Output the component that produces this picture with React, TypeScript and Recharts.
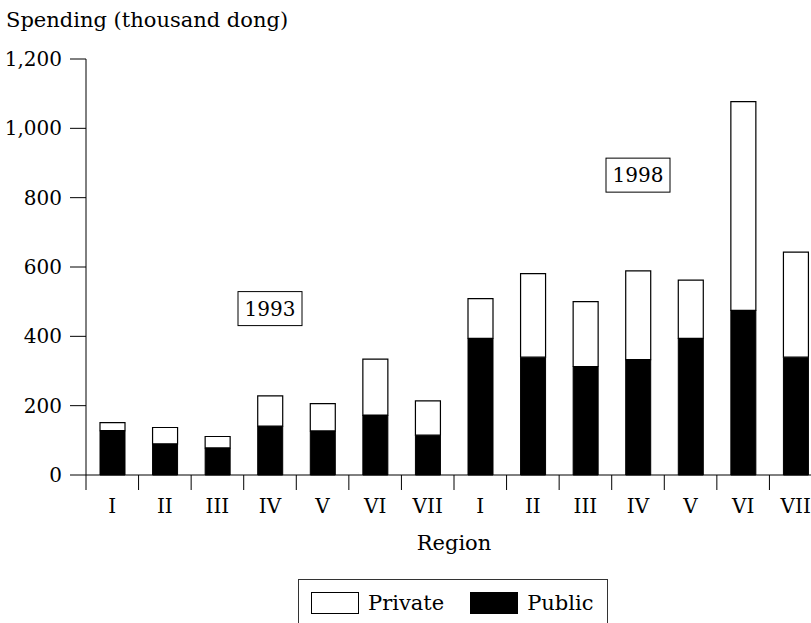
import { BarChart, Bar, XAxis, YAxis, ReferenceDot, Legend } from "recharts";

// spending per person, thousand dong
const regions = ["I", "II", "III", "IV", "V", "VI", "VII"];
const years = ["1993", "1998"];
const public1993 = [128, 90, 78, 141, 127, 173, 115];
const private1993 = [23, 47, 33, 87, 79, 161, 99];
const public1998 = [394, 340, 313, 333, 394, 475, 340];
const private1998 = [115, 241, 187, 256, 168, 602, 303];
const yTicks = [0, 200, 400, 600, 800, 1000, 1200];
const seriesNames = ["Private", "Public"];
// year tags sit over region IV of each group, at these spending levels
const yearTags = [
  { year: "1993", region: "IV", level: 480 },
  { year: "1998", region: "IV", level: 865 },
];

const publicByYear = [public1993, public1998];
const privateByYear = [private1993, private1998];

const data = years.flatMap((yr, yi) =>
  regions.map((r, i) => ({
    key: `${yr}-${r}`,
    Public: publicByYear[yi][i],
    Private: privateByYear[yi][i],
  }))
);

const FONT = '"DejaVu Serif", serif';
const FS = 20;
const FS_TITLE = 21;
const CHART_W = 830;
const CHART_H = 640;
const MARGIN = { top: 59, right: 8, left: 0, bottom: 85 };
const Y_AXIS_W = 86;
const X_AXIS_H = 80;
const X_TICK = 15;
const HALF_BAND = (CHART_W - MARGIN.left - MARGIN.right - Y_AXIS_W) / data.length / 2;

function RegionTick(props: any) {
  const { x, y, payload } = props;
  const axisY = y - X_TICK;
  const bx = x - HALF_BAND;
  return (
    <g>
      <line x1={bx} x2={bx} y1={axisY} y2={axisY + X_TICK} stroke="#000" strokeWidth={1} />
      <text x={x} y={axisY + 38} textAnchor="middle" fill="#000" fontSize={FS} fontFamily={FONT}>
        {String(payload.value).split("-")[1]}
      </text>
    </g>
  );
}

function YearBox({ cx, cy, text }: { cx: number; cy: number; text: string }) {
  return (
    <g>
      <rect x={cx - 32} y={cy - 17} width={64} height={34} fill="#fff" stroke="#000" strokeWidth={1} />
      <text x={cx} y={cy + 7} textAnchor="middle" fill="#000" fontSize={FS} fontFamily={FONT}>
        {text}
      </text>
    </g>
  );
}

function LegendBox() {
  const fills: Record<string, string> = { Private: "#fff", Public: "#000" };
  return (
    <div
      style={{
        boxSizing: "border-box",
        width: 310,
        height: 48,
        border: "1px solid #333",
        display: "flex",
        alignItems: "center",
        fontFamily: FONT,
        fontSize: FS_TITLE,
        color: "#000",
      }}
    >
      {seriesNames.map((n, i) => (
        <div key={n} style={{ display: "flex", alignItems: "center", marginLeft: i === 0 ? 12 : 26 }}>
          <span
            style={{
              display: "inline-block",
              boxSizing: "border-box",
              width: 48,
              height: 22,
              background: fills[n],
              border: "1px solid #000",
            }}
          />
          <span style={{ marginLeft: 9 }}>{n}</span>
        </div>
      ))}
    </div>
  );
}

export default function App() {
  return (
    <div
      style={{
        position: "absolute",
        left: 0,
        top: 0,
        width: 811,
        height: 623,
        overflow: "hidden",
        background: "#fff",
        fontFamily: FONT,
      }}
    >
      <BarChart width={CHART_W} height={CHART_H} data={data} margin={MARGIN}>
        <text x={6} y={27} fill="#000" fontSize={FS_TITLE} fontFamily={FONT}>
          Spending (thousand dong)
        </text>
        <XAxis
          dataKey="key"
          interval={0}
          height={X_AXIS_H}
          tickLine={false}
          tickSize={X_TICK}
          tickMargin={0}
          axisLine={{ stroke: "#000", strokeWidth: 1 }}
          tick={<RegionTick />}
          label={{ value: "Region", position: "insideBottom", offset: 5, fill: "#000", fontSize: FS_TITLE, fontFamily: FONT }}
        />
        <YAxis
          width={Y_AXIS_W}
          domain={[0, 1200]}
          ticks={yTicks}
          interval={0}
          tickSize={16}
          tickMargin={8}
          axisLine={{ stroke: "#000", strokeWidth: 1 }}
          tickLine={{ stroke: "#000", strokeWidth: 1 }}
          tick={{ fill: "#000", fontSize: FS, fontFamily: FONT }}
          tickFormatter={(v) => Number(v).toLocaleString("en-US")}
        />
        <Bar dataKey="Public" stackId="s" fill="#000" stroke="#000" strokeWidth={1} barSize={25} isAnimationActive={false} />
        <Bar dataKey="Private" stackId="s" fill="#fff" stroke="#000" strokeWidth={1.2} barSize={25} isAnimationActive={false} />
        {yearTags.map((t) => (
          <ReferenceDot
            key={t.year}
            x={`${t.year}-${t.region}`}
            y={t.level}
            r={0}
            ifOverflow="visible"
            shape={(p: any) => <YearBox cx={p.cx} cy={p.cy} text={t.year} />}
          />
        ))}
        <Legend
          verticalAlign="middle"
          align="center"
          wrapperStyle={{ position: "absolute", left: 298, top: 579, width: 310, height: 48 }}
          content={() => <LegendBox />}
        />
      </BarChart>
    </div>
  );
}
